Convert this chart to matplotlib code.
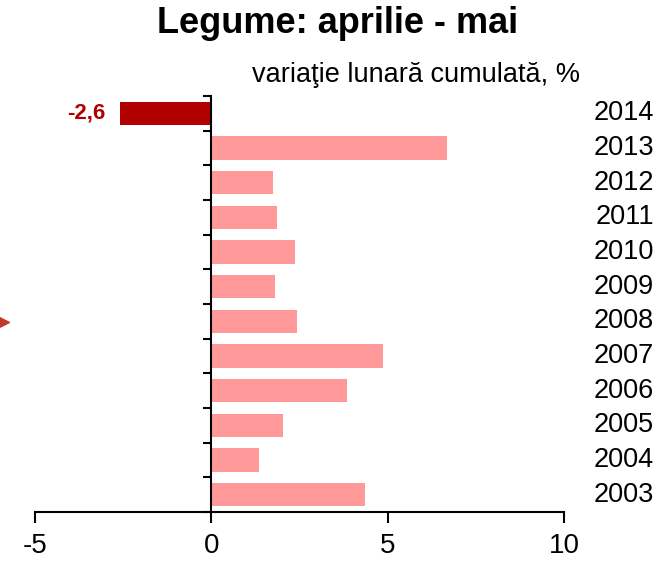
import matplotlib
matplotlib.use("Agg")
import matplotlib.pyplot as plt
import matplotlib.transforms as mtransforms
import numpy as np

plt.rcParams['font.family'] = ['Liberation Sans', 'DejaVu Sans']

years = ['2003', '2004', '2005', '2006', '2007', '2008', '2009', '2010', '2011', '2012', '2013', '2014']
values = [4.35, 1.36, 2.03, 3.85, 4.87, 2.43, 1.81, 2.38, 1.87, 1.75, 6.67, -2.6]
highlight_label = '-2,6'
xticks = [-5, 0, 5, 10]

fig = plt.figure(figsize=(6.71, 5.63), dpi=100)
ax = fig.add_axes([35/671, 1-512/563, (564-35)/671, (512-96)/563])

pos = np.arange(len(years))
colors = ['#FF9999'] * (len(years) - 1) + ['#B00000']
ax.barh(pos, values, height=0.67, color=colors, zorder=2)

ax.set_xlim(-5, 10)
ax.set_ylim(-0.5, len(years) - 0.5)
ax.set_xticks(xticks)
ax.set_xticklabels([str(t) for t in xticks], fontsize=20)

for s in ['top', 'right']:
    ax.spines[s].set_visible(False)
ax.spines['left'].set_position(('data', 0))
ax.spines['left'].set_linewidth(1.5)
ax.spines['bottom'].set_linewidth(1.5)
ax.tick_params(axis='x', direction='out', length=8, width=1.5, pad=7)

ax.set_yticks(pos)
ax.set_yticklabels([])
ax.set_yticks(np.arange(len(years) + 1) - 0.5, minor=True)
ax.tick_params(axis='y', which='major', left=False, right=False, length=0)
ax.tick_params(axis='y', which='minor', left=True, right=False, length=6, width=1.5, direction='out')

trans = mtransforms.blended_transform_factory(ax.transAxes, ax.transData)
for p, y in zip(pos, years):
    ax.text(1.17, p, y, transform=trans, ha='right', va='center', fontsize=19.5)

ax.text(values[-1] - 0.4, pos[-1], highlight_label, ha='right', va='center',
        fontsize=16, fontweight='bold', color='#B00000')

fig.text(0.503, 0.958, 'Legume: aprilie - mai', ha='center', va='center',
         fontsize=26, fontweight='bold')
fig.text(0.62, 0.867, 'variaţie lunară cumulată, %', ha='center', va='center',
         fontsize=19.5)

fig.add_artist(plt.Line2D([0.003], [1-322/563], marker='>', markersize=10,
                          color='#C0392B', transform=fig.transFigure, linestyle='none'))

fig.savefig('out.png', dpi=100, facecolor='white')
